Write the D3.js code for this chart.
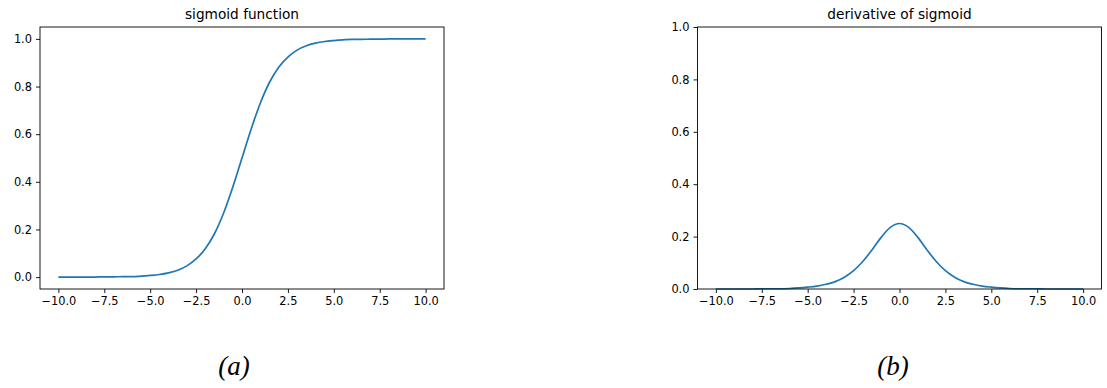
<!DOCTYPE html>
<html>
<head>
<meta charset="utf-8">
<script src="https://cdn.jsdelivr.net/npm/d3@7"></script>
<style>
  html, body { margin: 0; padding: 0; background: #fff; }
  svg { display: block; }
</style>
</head>
<body>
<svg id="chart" width="1107" height="388"></svg>
<script>
// ---- data ----
const xValues = [-10,-9.5,-9,-8.5,-8,-7.5,-7,-6.5,-6,-5.5,-5,-4.5,-4,-3.5,-3,-2.5,-2,-1.5,-1,-0.5,
                 0,0.5,1,1.5,2,2.5,3,3.5,4,4.5,5,5.5,6,6.5,7,7.5,8,8.5,9,9.5,10];
const sigmoidValues = [0.000,0.000,0.000,0.000,0.000,0.001,0.001,0.002,0.002,0.004,0.007,0.011,0.018,0.029,0.047,0.076,0.119,0.182,0.269,0.378,
                       0.500,0.622,0.731,0.818,0.881,0.924,0.953,0.971,0.982,0.989,0.993,0.996,0.998,0.998,0.999,0.999,1.000,1.000,1.000,1.000,1.000];
const derivativeValues = [0.000,0.000,0.000,0.000,0.000,0.001,0.001,0.001,0.002,0.004,0.007,0.011,0.018,0.028,0.045,0.070,0.105,0.149,0.197,0.235,
                          0.250,0.235,0.197,0.149,0.105,0.070,0.045,0.028,0.018,0.011,0.007,0.004,0.002,0.001,0.001,0.001,0.000,0.000,0.000,0.000,0.000];
const xTicks = [-10,-7.5,-5,-2.5,0,2.5,5,7.5,10];
const yTicks = [0,0.2,0.4,0.6,0.8,1.0];
const titles = ["sigmoid function", "derivative of sigmoid"];
const subLabels = ["(a)", "(b)"];

const svg = d3.select("#chart");
const lineColor = "#1f77b4";

const panels = [
  { left: 40, right: 444, top: 27, bottom: 289, xDom: [-11, 11], yDom: [-0.05, 1.05], values: sigmoidValues, title: titles[0], label: subLabels[0], labelX: 234 },
  { left: 697.5, right: 1101.5, top: 27, bottom: 289, xDom: [-11, 11], yDom: [0, 1], values: derivativeValues, title: titles[1], label: subLabels[1], labelX: 893 }
];

panels.forEach(p => {
  const x = d3.scaleLinear().domain(p.xDom).range([p.left, p.right]);
  const y = d3.scaleLinear().domain(p.yDom).range([p.bottom, p.top]);
  const g = svg.append("g");

  const xAxis = d3.axisBottom(x).tickValues(xTicks).tickSize(4).tickPadding(4)
    .tickFormat(d => d3.format(".1f")(d).replace("-", "\u2212"));
  const yAxis = d3.axisLeft(y).tickValues(yTicks).tickSize(4).tickPadding(4)
    .tickFormat(d3.format(".1f"));

  const gx = g.append("g").attr("transform", `translate(0,${p.bottom})`).call(xAxis);
  const gy = g.append("g").attr("transform", `translate(${p.left},0)`).call(yAxis);
  [gx, gy].forEach(a => {
    a.select(".domain").remove();
    a.selectAll("line").attr("stroke", "#000").attr("stroke-width", 0.9);
    a.selectAll("text").attr("fill", "#000")
      .style("font-family", "'DejaVu Sans', sans-serif").style("font-size", "11.4px");
  });

  const line = d3.line()
    .x((d, i) => x(xValues[i]))
    .y(d => y(d))
    .curve(d3.curveMonotoneX);

  g.append("path").datum(p.values)
    .attr("d", line)
    .attr("fill", "none")
    .attr("stroke", lineColor)
    .attr("stroke-width", 1.7);

  g.append("rect")
    .attr("x", p.left).attr("y", p.top)
    .attr("width", p.right - p.left).attr("height", p.bottom - p.top)
    .attr("fill", "none").attr("stroke", "#000").attr("stroke-width", 0.9);

  g.append("text")
    .attr("x", (p.left + p.right) / 2).attr("y", 18.5)
    .attr("text-anchor", "middle")
    .style("font-family", "'DejaVu Sans', sans-serif").style("font-size", "13.7px")
    .attr("fill", "#000")
    .text(p.title);

  g.append("text")
    .attr("x", p.labelX).attr("y", 375)
    .attr("text-anchor", "middle")
    .style("font-family", "'Liberation Serif', serif").style("font-style", "italic").style("font-size", "27px")
    .attr("fill", "#000")
    .text(p.label);
});
</script>
</body>
</html>
